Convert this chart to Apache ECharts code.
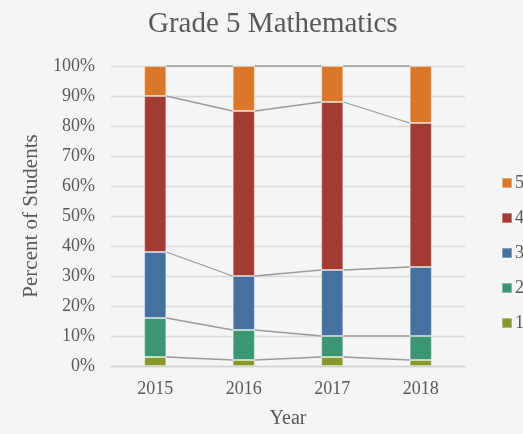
<!DOCTYPE html>
<html>
<head>
<meta charset="utf-8">
<script src="https://cdn.jsdelivr.net/npm/echarts@6/dist/echarts.min.js"></script>
<style>
  html, body { margin: 0; padding: 0; background: #f5f5f5; }
  #chart { width: 523px; height: 434px; }
</style>
</head>
<body>
<div id="chart"></div>
<script>
// categories
const years = ['2015', '2016', '2017', '2018'];
// percent of students per performance level (bottom to top)
const level1 = [3, 2, 3, 2];
const level2 = [13, 10, 7, 8];
const level3 = [22, 18, 22, 23];
const level4 = [52, 55, 56, 48];
const level5 = [10, 15, 12, 19];
const levelNames = ['1', '2', '3', '4', '5'];
const yTicks = [0, 10, 20, 30, 40, 50, 60, 70, 80, 90, 100];

const levels = [level1, level2, level3, level4, level5];
const colors = ['#85992b', '#3b9671', '#44719f', '#a23b33', '#d9782a'];
const textColor = '#595959';
const font = '"Liberation Serif", "DejaVu Serif", serif';

const chart = echarts.init(document.getElementById('chart'));

// bar series, stacked
const series = levels.map((vals, k) => ({
  name: levelNames[k],
  type: 'bar',
  stack: 'total',
  barWidth: '25%',
  data: vals,
  z: 3,
  itemStyle: {
    color: colors[k],
    borderColor: 'rgba(255,255,255,0.35)',
    borderWidth: 1
  }
}));

// series lines: connect top of each stack level between neighbouring bars
const lineData = [];
let cum = years.map(() => 0);
levels.forEach(vals => {
  cum = cum.map((c, i) => c + vals[i]);
  for (let i = 0; i < years.length - 1; i++) {
    lineData.push([i, cum[i], cum[i + 1]]);
  }
});

series.push({
  type: 'custom',
  name: 'lines',
  z: 2,
  silent: true,
  encode: { x: 0, y: 1 },
  data: lineData,
  renderItem: function (params, api) {
    const i = api.value(0);
    const p1 = api.coord([i, api.value(1)]);
    const p2 = api.coord([i + 1, api.value(2)]);
    const half = api.size([1, 0])[0] * 0.25 / 2;
    return {
      type: 'line',
      shape: { x1: p1[0] + half, y1: p1[1], x2: p2[0] - half, y2: p2[1] },
      style: { stroke: '#9a9a9a', lineWidth: 1.3 }
    };
  }
});

const option = {
  backgroundColor: '#f5f5f5',
  animation: false,
  textStyle: { fontFamily: font },
  title: {
    text: 'Grade 5 Mathematics',
    left: 143,
    top: 5,
    textStyle: { fontFamily: font, fontSize: 29, fontWeight: 'normal', color: textColor }
  },
  legend: {
    orient: 'vertical',
    left: 496,
    top: 169,
    itemWidth: 10,
    itemHeight: 10,
    itemGap: 17,
    icon: 'rect',
    data: ['5', '4', '3', '2', '1'],
    textStyle: { fontFamily: font, fontSize: 18, color: textColor, padding: [0, 0, 0, -2] }
  },
  grid: { left: 111, right: 58, top: 66, bottom: 64.5 },
  xAxis: {
    type: 'category',
    data: years,
    name: 'Year',
    nameLocation: 'middle',
    nameGap: 43,
    nameTextStyle: { fontFamily: font, fontSize: 20, color: textColor, verticalAlign: 'top' },
    axisLine: { lineStyle: { color: '#d0d0d0', width: 1.3 } },
    axisTick: { show: false },
    axisLabel: { fontFamily: font, fontSize: 18, color: textColor, margin: 14 }
  },
  yAxis: {
    type: 'value',
    min: yTicks[0],
    max: yTicks[yTicks.length - 1],
    interval: 10,
    name: 'Percent of Students',
    nameLocation: 'middle',
    nameGap: 65,
    nameTextStyle: { fontFamily: font, fontSize: 21, color: textColor },
    axisLine: { show: false },
    axisTick: { show: false },
    splitLine: { lineStyle: { color: '#d9d9d9', width: 1.3 } },
    axisLabel: { fontFamily: font, fontSize: 18, color: textColor, margin: 16, formatter: '{value}%' }
  },
  series: series
};

chart.setOption(option);
</script>
</body>
</html>
